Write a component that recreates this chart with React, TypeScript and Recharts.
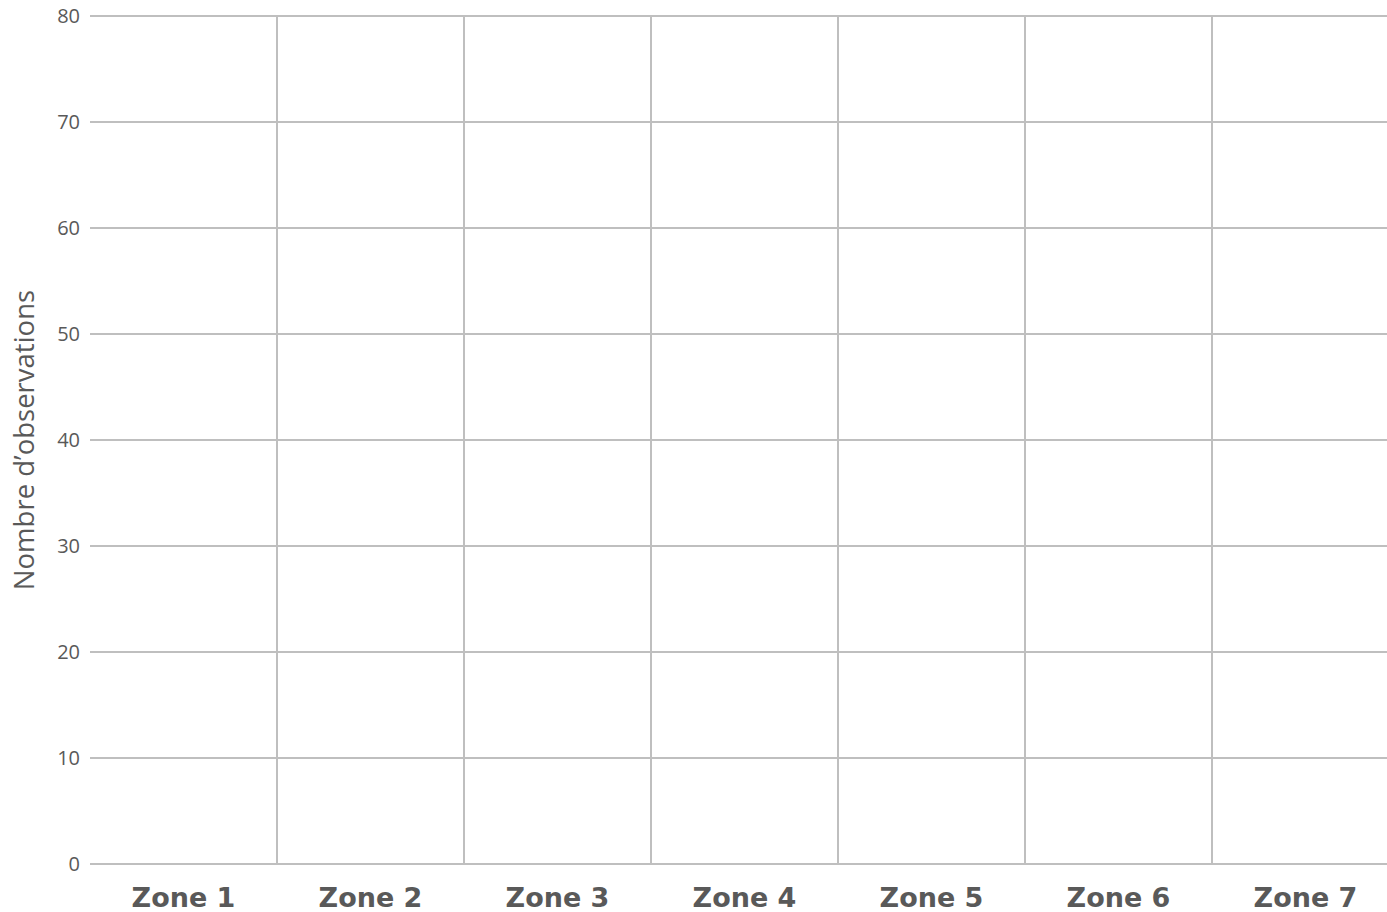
import React from 'react';
import { ComposedChart, Bar, XAxis, YAxis, CartesianGrid, Label } from 'recharts';

const zones: string[] = ['Zone 1', 'Zone 2', 'Zone 3', 'Zone 4', 'Zone 5', 'Zone 6', 'Zone 7'];
const observations: number[] = [0, 0, 0, 0, 0, 0, 0];
const yTicks: number[] = [0, 10, 20, 30, 40, 50, 60, 70, 80];
const zoneBoundaries: number[] = [1, 2, 3, 4, 5, 6];
const yAxisTitle = 'Nombre d’observations';

const data = zones.map((zone, i) => ({ zone, pos: i + 0.5, observations: observations[i] }));

const TEXT = '#595959';
const GRID = '#bfbfbf';

const verticalGen = (props: any): number[] => {
  const axis = props && props.xAxis;
  const scale = axis && axis.scale;
  if (!scale) return [];
  const f = typeof scale === 'function' ? scale : scale.map ? (v: number) => scale.map(v) : null;
  if (!f) return [];
  return zoneBoundaries.map((v) => f(v));
};

export default function App() {
  return (
    <div
      style={{
        position: 'absolute',
        left: 0,
        top: 0,
        width: 1387,
        height: 912,
        overflow: 'hidden',
        background: '#ffffff',
        fontFamily: '"Open Sans", "Noto Sans", sans-serif',
      }}
    >
      <ComposedChart width={1400} height={912} data={data} margin={{ top: 16, right: 1, bottom: 0, left: 0 }}>
        <CartesianGrid
          xAxisId="grid"
          stroke={GRID}
          strokeWidth={2}
          vertical
          horizontal
          verticalCoordinatesGenerator={verticalGen}
        />
        <XAxis
          xAxisId="cat"
          dataKey="zone"
          type="category"
          height={48}
          axisLine={false}
          tickLine={false}
          tickSize={0}
          tickMargin={24}
          interval={0}
          tick={{ fill: TEXT, fontSize: 27, fontWeight: 700, fontFamily: '"DejaVu Sans", sans-serif' }}
        />
        <XAxis xAxisId="grid" dataKey="pos" type="number" domain={[0, 7]} ticks={zoneBoundaries} hide />
        <YAxis
          width={90}
          type="number"
          domain={[0, 80]}
          ticks={yTicks}
          axisLine={false}
          tickLine={false}
          tickSize={0}
          tickMargin={10}
          tick={{ fill: TEXT, fontSize: 20 }}
        >
          <Label
            value={yAxisTitle}
            angle={-90}
            position="insideLeft"
            offset={24}
            fill={TEXT}
            fontSize={27.5}
            style={{ textAnchor: 'middle' }}
          />
        </YAxis>
        <Bar xAxisId="cat" dataKey="observations" fill="#4472c4" isAnimationActive={false} />
      </ComposedChart>
    </div>
  );
}
